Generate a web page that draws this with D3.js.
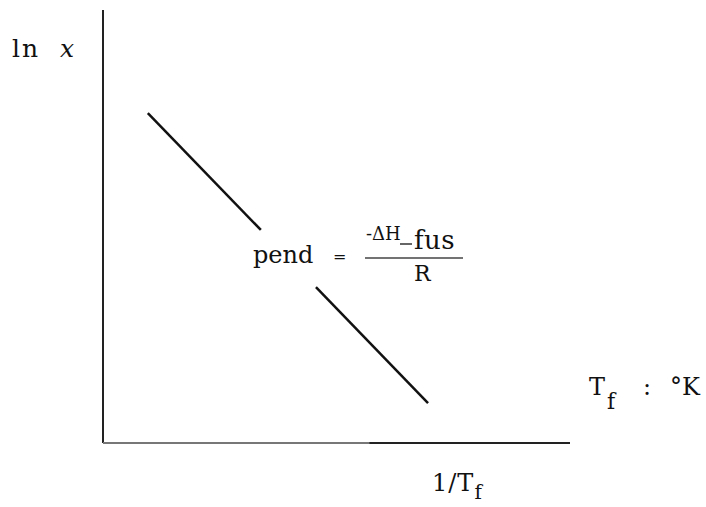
<!DOCTYPE html>
<html>
<head>
<meta charset="utf-8">
<script src="https://cdn.jsdelivr.net/npm/d3@7"></script>
<style>
  html, body { margin: 0; padding: 0; background: #fff; }
  svg { display: block; }
  .lbl { font-family: "DejaVu Serif", "Liberation Serif", serif; fill: #111; }
</style>
</head>
<body>
<svg id="chart" width="706" height="507"></svg>
<script>
// Schematic: ln x against 1/Tf, a straight line of slope -ΔHfus/R
// The line is split in two pieces to leave room for the slope label.
const segmentA_x = [0.96, 3.38];
const segmentA_y = [7.62, 4.92];
const segmentB_x = [4.56, 6.96];
const segmentB_y = [3.60, 0.92];

const xDomain = [0, 10];
const yDomain = [0, 10];

const svg = d3.select("#chart");

const x = d3.scaleLinear().domain(xDomain).range([103, 570]);
const y = d3.scaleLinear().domain(yDomain).range([443, 10]);

// Axes as bare lines (no ticks)
svg.append("line")
  .attr("x1", x(0)).attr("x2", x(0))
  .attr("y1", y(10)).attr("y2", y(0))
  .attr("stroke", "#222").attr("stroke-width", 2);

// horizontal axis: left portion printed lighter
svg.append("line")
  .attr("x1", x(0)).attr("x2", x(5.7))
  .attr("y1", y(0)).attr("y2", y(0))
  .attr("stroke", "#777").attr("stroke-width", 2);
svg.append("line")
  .attr("x1", x(5.7)).attr("x2", x(10))
  .attr("y1", y(0)).attr("y2", y(0))
  .attr("stroke", "#222").attr("stroke-width", 2);

const line = d3.line().x(d => x(d[0])).y(d => y(d[1]));
[[segmentA_x, segmentA_y], [segmentB_x, segmentB_y]].forEach(([xs, ys]) => {
  svg.append("path")
    .attr("d", line(d3.zip(xs, ys)))
    .attr("fill", "none")
    .attr("stroke", "#111")
    .attr("stroke-width", 2.5);
});

// y axis label: ln x
const ly = svg.append("text").attr("class", "lbl").attr("y", 57).attr("font-size", 25);
ly.append("tspan").attr("x", 12).attr("letter-spacing", 2).text("ln");
ly.append("tspan").attr("x", 60).attr("font-style", "italic").text("x");

// slope label
svg.append("text").attr("class", "lbl").attr("x", 253).attr("y", 263)
  .attr("font-size", 24).text("pend");
svg.append("text").attr("class", "lbl").attr("x", 333).attr("y", 262)
  .attr("font-size", 16).text("=");
svg.append("text").attr("class", "lbl").attr("x", 366).attr("y", 240)
  .attr("font-size", 18).text("-ΔH");
svg.append("line").attr("x1", 400).attr("x2", 412).attr("y1", 244).attr("y2", 244)
  .attr("stroke", "#333").attr("stroke-width", 1.5);
svg.append("text").attr("class", "lbl").attr("x", 414).attr("y", 249)
  .attr("font-size", 26).attr("letter-spacing", 0.5).text("fus");
svg.append("line").attr("x1", 365).attr("x2", 463).attr("y1", 258).attr("y2", 258)
  .attr("stroke", "#444").attr("stroke-width", 1.3);
svg.append("text").attr("class", "lbl").attr("x", 414).attr("y", 281)
  .attr("font-size", 22).text("R");

// side note: Tf : °K
const tk = svg.append("text").attr("class", "lbl").attr("y", 395).attr("font-size", 24);
tk.append("tspan").attr("x", 589).text("T");
tk.append("tspan").attr("x", 607).attr("dy", 14).attr("font-size", 22).text("f");
tk.append("tspan").attr("x", 643).attr("dy", -14).text(":");
tk.append("tspan").attr("x", 670).text("°K");

// x axis label: 1/Tf
const xl = svg.append("text").attr("class", "lbl").attr("x", 432).attr("y", 491).attr("font-size", 24);
xl.append("tspan").attr("letter-spacing", 1).text("1/T");
xl.append("tspan").attr("dy", 8).attr("font-size", 20).text("f");
</script>
</body>
</html>
